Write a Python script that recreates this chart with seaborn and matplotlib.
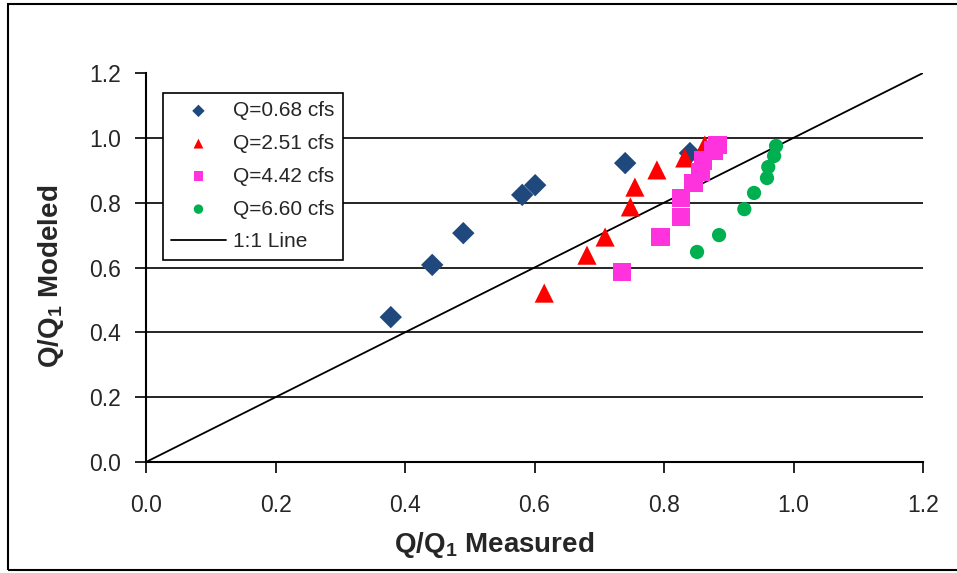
import matplotlib
matplotlib.use("Agg")
import matplotlib.pyplot as plt
import seaborn as sns
import pandas as pd
from matplotlib.patches import Rectangle

# Flow-ratio comparison: measured vs. modeled Q/Q1 for four discharges
q068_measured = [0.378, 0.442, 0.490, 0.581, 0.601, 0.740, 0.840]
q068_modeled = [0.447, 0.608, 0.706, 0.824, 0.854, 0.922, 0.953]

q251_measured = [0.615, 0.681, 0.709, 0.748, 0.755, 0.789, 0.832, 0.863]
q251_modeled = [0.521, 0.638, 0.694, 0.787, 0.848, 0.901, 0.938, 0.978]

q442_measured = [0.735, 0.795, 0.826, 0.826, 0.846, 0.856, 0.860, 0.876, 0.883]
q442_modeled = [0.586, 0.694, 0.756, 0.814, 0.861, 0.895, 0.930, 0.960, 0.978]

q660_measured = [0.851, 0.885, 0.924, 0.939, 0.959, 0.961, 0.970, 0.973]
q660_modeled = [0.648, 0.700, 0.780, 0.830, 0.876, 0.910, 0.944, 0.975]

series_labels = ["Q=0.68 cfs", "Q=2.51 cfs", "Q=4.42 cfs", "Q=6.60 cfs"]
series_colors = ["#1F497D", "#FF0000", "#FF33DD", "#00B050"]
series_markers = ["D", "^", "s", "o"]
series_sizes = [130, 190, 180, 105]
legend_sizes = [40, 50, 50, 46]

one_to_one = [0.0, 1.2]
ticks = [0.0, 0.2, 0.4, 0.6, 0.8, 1.0, 1.2]

frames = []
for lab, xs, ys in zip(series_labels,
                       [q068_measured, q251_measured, q442_measured, q660_measured],
                       [q068_modeled, q251_modeled, q442_modeled, q660_modeled]):
    frames.append(pd.DataFrame({"measured": xs, "modeled": ys, "series": lab}))
data = pd.concat(frames, ignore_index=True)

sns.set_style("white")
plt.rcParams["font.family"] = ["Liberation Sans", "DejaVu Sans"]
plt.rcParams["mathtext.fontset"] = "custom"
plt.rcParams["mathtext.rm"] = "Liberation Sans"
plt.rcParams["mathtext.bf"] = "Liberation Sans:bold"

fig = plt.figure(figsize=(9.57, 5.73), dpi=100)
ax = fig.add_axes([0.1526, 0.1937, 0.8119, 0.6789])

# horizontal gridlines only, below the data
for v in ticks[1:-1]:
    ax.axhline(v, color="black", lw=1.2, zorder=0.5)

handles = []
for lab, col, mk, sz, lsz in zip(series_labels, series_colors, series_markers,
                                 series_sizes, legend_sizes):
    sub = data[data["series"] == lab]
    sns.scatterplot(data=sub, x="measured", y="modeled", ax=ax, color=col,
                    marker=mk, s=sz, edgecolor="none", linewidth=0, zorder=3,
                    legend=False)
    handles.append(ax.scatter([], [], color=col, marker=mk, s=lsz,
                              edgecolor="none", label=lab))

sns.lineplot(x=one_to_one, y=one_to_one, ax=ax, color="black", lw=1.3,
             zorder=2, legend=False)
line_handle, = ax.plot([], [], color="black", lw=1.3, label="1:1 Line")
handles.append(line_handle)

ax.set_xlim(0, 1.2)
ax.set_ylim(0, 1.2)
ax.set_xticks(ticks)
ax.set_yticks(ticks)
ax.set_xticklabels([f"{t:.1f}" for t in ticks])
ax.set_yticklabels([f"{t:.1f}" for t in ticks])
ax.tick_params(axis="both", labelsize=16.5, length=8, width=1.2, color="black",
               direction="out", bottom=True, left=True)
ax.tick_params(axis="y", pad=10)
ax.tick_params(axis="x", pad=15)

for side in ["top", "right"]:
    ax.spines[side].set_visible(False)
for side in ["left", "bottom"]:
    ax.spines[side].set_color("black")
    ax.spines[side].set_linewidth(1.5)

ax.set_xlabel(r"Q/Q$_\mathbf{1}$ Measured", fontsize=20, fontweight="bold")
ax.set_ylabel(r"Q/Q$_\mathbf{1}$ Modeled", fontsize=20, fontweight="bold")
ax.xaxis.set_label_coords((494 - 146) / 777, -(545 - 462) / 389)
ax.yaxis.set_label_coords(-(146 - 51) / 777, (462 - 276) / 389)
ax.xaxis.label.set_va("center")
ax.yaxis.label.set_va("center")

leg = ax.legend(handles=handles, loc="upper left",
                bbox_to_anchor=((163 - 146) / 777, (462 - 93) / 389),
                fontsize=15, frameon=True, fancybox=False, edgecolor="black",
                framealpha=1, borderpad=0.4, labelspacing=0.66,
                handlelength=2.6, handletextpad=0.35, borderaxespad=0)
leg.get_frame().set_linewidth(1.2)
leg.set_zorder(5)

# outer chart frame
fig.patches.append(Rectangle((8 / 957, 3 / 573), 1.0, 566 / 573,
                             transform=fig.transFigure, fill=False,
                             edgecolor="black", lw=1.5))

fig.savefig("out.png", dpi=100)
